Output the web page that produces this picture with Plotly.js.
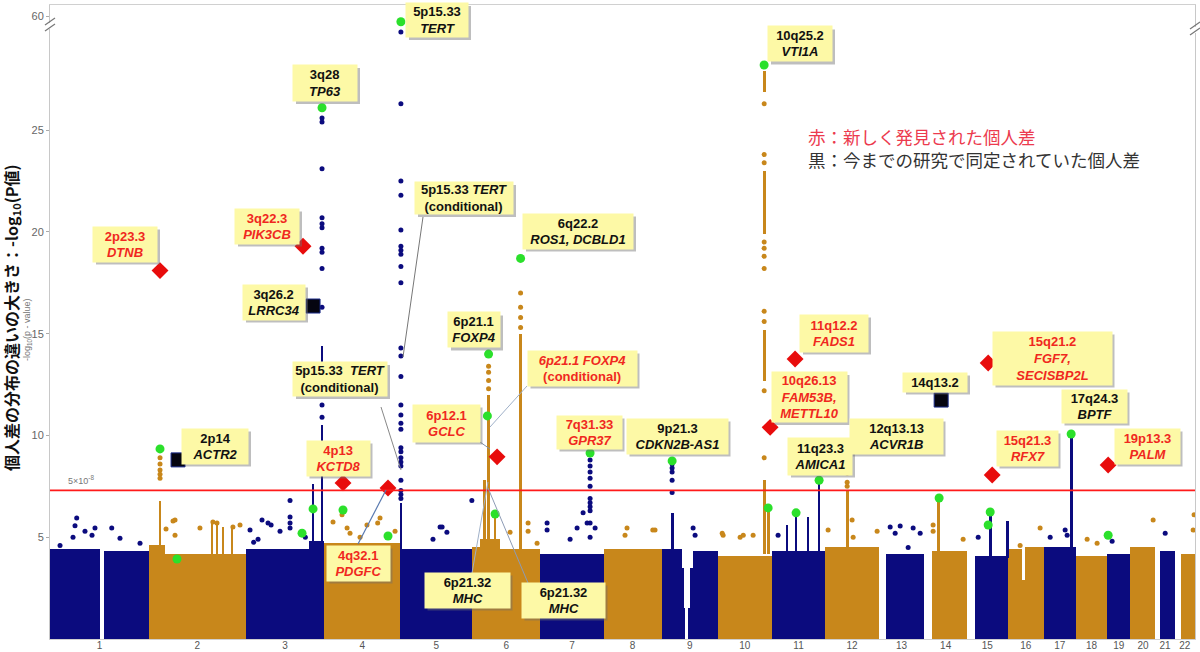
<!DOCTYPE html>
<html><head><meta charset="utf-8">
<script src="https://cdn.plot.ly/plotly-3.0.1.min.js"></script>
<style>html,body{margin:0;padding:0;background:#fff;}#chart{width:1200px;height:652px;}</style>
</head><body><div id="chart"></div>
<script>
// ---------------- DATA ----------------
const chrNames = ['1','2','3','4','5','6','7','8','9','10','11','12','13','14','15','16','17','18','19','20','21','22'];
const chrLen = [249.25,243.2,198.0,191.15,180.9,171.1,159.1,146.4,141.2,135.5,135.0,133.9,115.2,107.3,102.5,90.4,81.2,78.1,59.1,63.0,48.1,51.3];

// dense background band (chromosome, from Mb, to Mb, top -log10 p)
const bandChr  = [1,1, 2,2, 3,3, 4, 5, 6,6,6, 7, 8, 9,9,9,9,9,9, 10, 11, 12, 13, 14, 15, 16,16,16, 17, 18, 19, 20, 21, 22];
const bandFrom = [0,137, 0,40, 0,160, 0, 0, 0,20,70, 0, 0, 0,51,55,66,71,79, 0, 0, 0, 19, 19, 20, 0,36,44, 0, 0, 0, 0, 12, 15];
const bandTo   = [126,249.25, 40,243.2, 160,198, 191.15, 180.9, 20,70,171.1, 159.1, 146.4, 51,55,59,71,79,141.2, 135.5, 135.0, 133.9, 115.2, 107.3, 102.5, 36,44,90.4, 81.2, 78.1, 59.1, 63.0, 48.1, 51.3];
const bandTop  = [4.4,4.3, 4.6,4.2, 4.4,4.8, 4.7, 4.4, 4.5,4.9,4.4, 4.2, 4.4, 4.4,3.5,1.5,1.5,3.5,4.3, 4.1, 4.3, 4.5, 4.2, 4.3, 4.1, 4.4,2.9,4.5, 4.5, 4.1, 4.2, 4.5, 4.3, 4.2];

// dense vertical strands of SNPs near association peaks
const colChr = [2,2,2,2,2, 3,3,3, 5, 6,6,6,6, 9, 10,10,10,10,10, 11,11,11,11, 12, 14, 15,15, 17];
const colPos = [27.6,158.5,170.9,186,208.7, 192,192,169.4, 1.3, 41,30,57.4,121.5, 26.2, 116.5,116.5,116.5,116.5,126.6, 61.4,38.8,91.6,119.3, 54.9, 34.7, 58.4,101, 69.2];
const colLo  = [4.0,4.0,4.0,4.0,4.0, 4.0,12.2,4.3, 4.0, 4.4,4.4,4.4,4.4, 4.4, 4.2,12.7,19.9,26.9,4.2, 4.3,4.3,4.3,4.3, 4.4, 4.3, 4.0,4.0, 4.3];
const colHi  = [6.8,5.7,5.6,5.5,5.4, 10.5,14.4,7.6, 6.7, 12.0,7.8,6.0,15.0, 6.2, 7.8,15.2,23.0,27.9,6.4, 6.0,5.6,6.0,7.6, 7.3, 6.8, 6.1,5.8, 9.9];

// individual SNP points
const ptChr = [
 3,3,3,3,3,3,3,3,3,3,3,3,
 5,5,5,5,5,5,5,5,5,5,5,5,5,5,5,5,5,5,5,5,5,5,5,5,5,5,
 2,2,2,2,2,
 3,3,3,3,
 6,6,6,6,
 6,6,6,6,
 7,7,7,7,7,7,7,7,7,7,7,
 9,9,9,9,9,
 10,10,10,10,10,10,10,10,10,10,10,
 12,12,12,
 1,1,1,1,1,1,1,1,1,1,
 2,2,2,2,2,2,2,2,2,
 3,3,3,3,3,3,3,3,
 4,4,4,4,4,4,4,4,4,
 5,5,5,5,5,
 6,6,6,6,
 7,7,7,7,7,7,7,
 8,8,8,8,
 9,9,
 10,10,10,10,10,
 11,
 12,12,12,12,
 13,13,13,13,13,13,
 14,14,14,
 15,
 16,16,
 17,17,17,
 18,18,
 19,
 20,
 21,
 22,22];
const ptPos = [
 192,192,192,192,192,192,192,192,192,192,192,192,
 1.3,1.3,1.3,1.3,1.3,1.3,1.3,1.3,1.3,1.3,1.3,1.3,1.3,1.3,1.3,1.3,1.3,1.3,1.3,1.3,1.3,1.3,1.3,1.3,1.3,1.3,
 27.6,27.6,27.6,27.6,27.6,
 111.5,111.5,111.5,111.5,
 41,41,41,41,
 121.5,121.5,121.5,121.5,
 125.3,125.3,125.3,125.3,125.3,125.3,125.3,125.3,125.3,125.3,125.3,
 26.2,26.2,26.2,26.2,26.2,
 116.5,116.5,116.5,116.5,116.5,116.5,116.5,116.5,116.5,116.5,116.5,
 54.9,54.9,54.9,
 67.2,62.9,88,105.7,113.2,57.9,155.3,176.1,25.2,226.5,
 65.3,65.3,128,160.7,211,60.3,42.7,228.8,170.9,
 10.8,41,56.1,86.3,31,63.9,20,150,
 21.6,44.3,139.9,134,107,57,64.4,89.6,177.7,
 99.9,179.8,105,117,82,
 140.4,140.4,95,163,
 17.1,17.1,75,92.6,107.7,117.8,137.9,
 59.1,129.6,54.1,124,
 79,84,
 13.3,56.1,88.8,11,64,
 16.1,
 7,67.4,70,130.3,
 29.2,54.4,87,41.8,104.7,74.5,
 22.1,22.1,97.6,
 28.2,
 31.2,81.5,
 16.4,54.1,59.1,
 28.2,53.3,
 13,
 57.1,
 24.4,
 46.6,49];
const ptVal = [
 10.9,11.5,16.3,18.2,19.0,19.2,20.2,20.4,20.7,23.1,25.4,25.6,
 6.9,7.1,7.3,7.8,8.5,8.7,8.9,9.2,9.4,10.3,10.6,11.0,11.5,12.9,13.9,14.3,17.5,18.3,18.9,19.1,19.3,20.1,21.8,22.5,26.3,56.9,
 7.9,8.1,8.3,8.6,8.9,
 6.8,6.0,5.7,5.45,
 12.3,12.7,13.1,13.4,
 15.3,15.8,16.3,17.0,
 8.8,8.5,8.2,7.9,7.5,6.9,6.7,6.5,6.3,5.7,5.0,
 8.6,8.4,8.2,7.8,7.2,
 26.3,23.4,23.8,19.5,19.2,18.8,18.2,16.1,15.6,12.2,8.9,
 7.5,7.7,8.15,
 5.95,5.57,5.3,5.1,5.45,5.0,5.45,4.95,4.6,4.7,
 5.85,5.1,5.45,5.75,5.5,5.8,5.4,5.6,5.7,
 5.35,5.85,5.7,5.3,4.9,5.6,4.75,5.0,
 5.75,6.1,5.95,5.7,5.6,5.45,5.2,5.0,5.3,
 5.5,6.8,5.5,5.25,4.9,
 5.7,5.3,5.25,4.7,
 5.7,5.35,4.9,5.45,6.2,5.7,5.45,
 5.45,5.35,5.1,5.35,
 5.45,5.1,
 5.1,5.0,5.1,5.2,5.1,
 5.1,
 5.35,5.85,5.0,5.3,
 5.5,5.55,5.45,5.2,5.2,4.5,
 5.6,5.3,4.9,
 5.0,
 4.6,5.45,
 5.0,5.35,5.1,
 4.9,4.7,
 4.8,
 5.85,
 5.2,
 5.35,6.1];

// lead SNPs (green), new loci (red diamonds), known loci not in this scan (black squares)
const greenChr = [2,2,3,3,3,4,4,5,6,6,6,6,7,9,10,10,11,11,14,15,15,17,19];
const greenPos = [27.6,70.3,141.7,169.4,192,46.8,160,1.3,41,38,57.4,121.5,125.3,26.2,116.5,126.6,61.4,119.3,37.2,58.4,53.3,69.2,3.0];
const greenVal = [9.34,3.93,5.2,6.39,26.1,6.34,5.06,58.9,14.0,10.96,6.14,18.7,9.14,8.75,28.2,6.44,6.2,7.8,6.93,6.24,5.6,10.07,5.1];
const redChr = [2,3,4,4,6,10,11,15,15,19];
const redPos = [27.6,144.2,46.8,160,62.4,131.6,58.9,53.3,63.4,3.0];
const redVal = [18.1,19.3,7.67,7.42,8.95,10.4,13.76,13.56,8.06,8.55];
const sqChr = [2,3,14];
const sqPos = [72.9,169.4,42.3];
const sqVal = [8.8,16.36,11.74];

const sigP = 5e-8;
const yTickVals = [5,10,15,20,25,60];

// ---------------- HELPERS ----------------
const NAVY = '#0b0b7e', ORANGE = '#c8871b';
const cumStart = []; let acc = 0;
chrLen.forEach(l => { cumStart.push(acc); acc += l; });
const genomeLen = acc;
const gx = (c, p) => cumStart[c - 1] + p;
const colOf = c => (c % 2 ? NAVY : ORANGE);
// broken axis: values above 30 are compressed into the top band
const yb = v => (v > 30 ? 30.6 - (60 - v) * 0.25 : v);

// plot area in pixels (layout)
const PL = 50, PR = 1195, PT = 5, PB = 639;
const X = px => (px - PL) / (PR - PL);
const Y = py => (PB - py) / (PB - PT);

// ---------------- TRACES ----------------
const traces = [];
traces.push({
  type: 'bar',
  x: bandChr.map((c, i) => gx(c, (bandFrom[i] + bandTo[i]) / 2)),
  width: bandChr.map((c, i) => bandTo[i] - bandFrom[i]),
  y: bandTop, base: 0,
  marker: {color: bandChr.map(colOf), line: {width: 0}},
  hoverinfo: 'skip'
});
traces.push({
  type: 'bar',
  x: colChr.map((c, i) => gx(c, colPos[i])),
  width: colChr.map(() => 7),
  base: colLo, y: colHi.map((h, i) => h - colLo[i]),
  marker: {color: colChr.map(colOf), line: {width: 0}},
  hoverinfo: 'skip'
});
traces.push({
  type: 'scatter', mode: 'markers',
  x: ptChr.map((c, i) => gx(c, ptPos[i])),
  y: ptVal.map(yb),
  marker: {size: 5, color: ptChr.map(colOf)},
  hoverinfo: 'skip'
});
traces.push({
  type: 'scatter', mode: 'markers',
  x: greenChr.map((c, i) => gx(c, greenPos[i])),
  y: greenVal.map(yb),
  marker: {size: 9, color: '#2be02b'},
  hoverinfo: 'skip'
});
traces.push({
  type: 'scatter', mode: 'markers',
  x: redChr.map((c, i) => gx(c, redPos[i])),
  y: redVal,
  marker: {size: 13, symbol: 'diamond', color: '#e80c0c'},
  hoverinfo: 'skip'
});
traces.push({
  type: 'scatter', mode: 'markers',
  x: sqChr.map((c, i) => gx(c, sqPos[i])),
  y: sqVal,
  marker: {size: 14, symbol: 'square', color: '#050510', line: {color: '#1a2a8a', width: 1}},
  hoverinfo: 'skip'
});

// ---------------- ANNOTATIONS ----------------
const RED = '#f0281e', BLK = '#111111';
const boxes = [
  ['<b>5p15.33</b><br><b><i>TERT</i></b>', 437, 20, 62, 34, BLK],
  ['<b>3q28</b><br><b><i>TP63</i></b>', 325, 83, 64, 36, BLK],
  ['<b>10q25.2</b><br><b><i>VTI1A</i></b>', 800, 44, 64, 35, BLK],
  ['<b>2p23.3</b><br><b><i>DTNB</i></b>', 125, 244, 64, 35, RED],
  ['<b>3q22.3</b><br><b><i>PIK3CB</i></b>', 267, 226, 64, 35, RED],
  ['<b>3q26.2</b><br><b><i>LRRC34</i></b>', 274, 302, 62, 35, BLK],
  ['<b>5p15.33 <i>TERT</i></b><br><b>(conditional)</b>', 464, 198, 98, 32, BLK],
  ['<b>6q22.2</b><br><b><i>ROS1, DCBLD1</i></b>', 578, 231, 110, 35, BLK],
  ['<b>6p21.1</b><br><b><i>FOXP4</i></b>', 474, 330, 52, 35, BLK],
  ['<b>5p15.33  <i>TERT</i></b><br><b>(conditional)</b>', 340, 379, 94, 34, BLK],
  ['<b><i>6p21.1 FOXP4</i></b><br><b>(conditional)</b>', 582, 368, 109, 35, RED],
  ['<b>6p12.1</b><br><b><i>GCLC</i></b>', 446, 423, 67, 37, RED],
  ['<b>4p13</b><br><b><i>KCTD8</i></b>', 338, 458, 63, 35, RED],
  ['<b>2p14</b><br><b><i>ACTR2</i></b>', 215, 446, 66, 35, BLK],
  ['<b>4q32.1</b><br><b><i>PDGFC</i></b>', 358, 563, 63, 35, RED],
  ['<b>7q31.33</b><br><b><i>GPR37</i></b>', 589, 432, 65, 33, RED],
  ['<b>9p21.3</b><br><b><i>CDKN2B-AS1</i></b>', 677, 436, 101, 35, BLK],
  ['<b>6p21.32</b><br><b><i>MHC</i></b>', 467, 590, 85, 35, BLK],
  ['<b>6p21.32</b><br><b><i>MHC</i></b>', 563, 600, 83, 35, BLK],
  ['<b>10q26.13</b><br><b><i>FAM53B,</i></b><br><b><i>METTL10</i></b>', 809, 397, 75, 50, RED],
  ['<b>11q12.2</b><br><b><i>FADS1</i></b>', 834, 333, 68, 37, RED],
  ['<b>11q23.3</b><br><b><i>AMICA1</i></b>', 820, 456, 64, 37, BLK],
  ['<b>12q13.13</b><br><b><i>ACVR1B</i></b>', 896, 436, 93, 35, BLK],
  ['<b>14q13.2</b>', 935, 382, 64, 19, BLK],
  ['<b>15q21.2</b><br><b><i>FGF7,</i></b><br><b><i>SECISBP2L</i></b>', 1052, 358, 119, 53, RED],
  ['<b>17q24.3</b><br><b><i>BPTF</i></b>', 1094, 406, 65, 33, BLK],
  ['<b>15q21.3</b><br><b><i>RFX7</i></b>', 1027, 448, 61, 35, RED],
  ['<b>19p13.3</b><br><b><i>PALM</i></b>', 1147, 446, 65, 35, RED]
];
const LBLFONT = 'Liberation Sans, Arial, sans-serif';
const annotations = [];
const shadowShapes = [];
boxes.forEach(b => {
  // drop shadow as a shape (drawn under annotations)
  shadowShapes.push({type: 'rect', xref: 'paper', yref: 'paper', layer: 'above',
    x0: X(b[1] - b[3] / 2 + 3), x1: X(b[1] + b[3] / 2 + 3),
    y0: Y(b[2] + b[4] / 2 + 3), y1: Y(b[2] - b[4] / 2 + 3),
    fillcolor: 'rgba(110,110,110,0.45)', line: {width: 0}});
  annotations.push({xref: 'paper', yref: 'paper', x: X(b[1]), y: Y(b[2]), xanchor: 'center', yanchor: 'middle',
    text: b[0], showarrow: false, width: b[3], height: b[4], align: 'center', valign: 'middle', borderpad: 0,
    bgcolor: '#fdf9a6', font: {family: LBLFONT, size: 13, color: b[5]}});
});
// axis titles and texts
annotations.push({xref: 'paper', yref: 'paper', x: X(11), y: Y(318), xanchor: 'center', yanchor: 'middle', showarrow: false,
  textangle: -90, text: '<b>個人差の分布の違いの大きさ：-log<sub>10</sub>(P値)</b>',
  font: {family: 'Noto Sans CJK JP, sans-serif', size: 16, color: '#111'}});
annotations.push({xref: 'paper', yref: 'paper', x: X(28), y: Y(330), xanchor: 'center', yanchor: 'middle', showarrow: false,
  textangle: -90, text: '-log<sub>10</sub>(p - value)',
  font: {family: 'Liberation Sans, Arial, sans-serif', size: 9, color: '#777'}});
annotations.push({xref: 'paper', yref: 'y', x: X(66), y: -Math.log10(sigP), xanchor: 'left', yanchor: 'bottom', yshift: 2, showarrow: false,
  text: '5×10<sup>-8</sup>', font: {family: 'Liberation Sans, Arial, sans-serif', size: 9, color: '#777'}});
annotations.push({xref: 'paper', yref: 'paper', x: X(806), y: Y(148), xanchor: 'left', yanchor: 'middle', showarrow: false, align: 'left',
  text: '<span style="color:#ec3a4e">赤：新しく発見された個人差</span><br><span style="color:#333">黒：今までの研究で同定されていた個人差</span>',
  font: {family: 'Noto Sans CJK JP, sans-serif', size: 17.5, color: '#333'}});

// ---------------- SHAPES ----------------
const L = (x0, y0, x1, y1, color, w) => ({type: 'line', xref: 'paper', yref: 'paper',
  x0: X(x0), y0: Y(y0), x1: X(x1), y1: Y(y1), line: {color: color, width: w || 1}});
const shapes = [
  {type: 'line', xref: 'paper', yref: 'y', x0: 0, x1: 1, y0: -Math.log10(sigP), y1: -Math.log10(sigP),
    line: {color: '#ff1a1a', width: 1.6}},
  L(423, 217, 403, 357, '#777', 1),
  L(381, 407, 401, 470, '#888', 1),
  L(527, 386, 490, 427, '#9fb0c8', 1),
  L(480, 442, 490, 449, '#8090a8', 1),
  L(472, 573, 488, 482, '#9fb0c8', 1),
  L(528, 583, 488, 488, '#8d9bb5', 1),
  L(358, 544, 386, 490, '#5a7ab0', 1.2),
  // axis break marks
  {type: 'rect', xref: 'paper', yref: 'paper', x0: X(47), x1: X(53), y0: Y(29), y1: Y(23), fillcolor: '#fff', line: {width: 0}},
  L(45, 25, 55, 18, '#777', 1.2),
  L(45, 31, 55, 24, '#777', 1.2),
  {type: 'rect', xref: 'paper', yref: 'paper', x0: X(1192), x1: X(1198), y0: Y(33), y1: Y(27), fillcolor: '#fff', line: {width: 0}},
  L(1190, 29, 1200, 22, '#777', 1.2),
  L(1190, 35, 1200, 28, '#777', 1.2)
].concat(shadowShapes);

// ---------------- LAYOUT ----------------
const layout = {
  width: 1200, height: 652,
  margin: {l: PL, r: 1200 - PR, t: PT, b: 652 - PB},
  paper_bgcolor: '#fff', plot_bgcolor: '#fff',
  showlegend: false, barmode: 'overlay', bargap: 0,
  xaxis: {range: [0, genomeLen], showgrid: false, zeroline: false,
    tickvals: chrLen.map((l, i) => cumStart[i] + l / 2), ticktext: chrNames,
    tickfont: {family: 'Liberation Sans, Arial, sans-serif', size: 10, color: '#555'},
    ticks: '', ticklabelstandoff: -3, showline: true, mirror: true, linecolor: '#d0d0d0', linewidth: 1},
  yaxis: {range: [0, 31.15], showgrid: false, zeroline: false,
    tickvals: yTickVals.map(yb), ticktext: yTickVals.map(String),
    tickfont: {family: 'Liberation Sans, Arial, sans-serif', size: 11, color: '#666'},
    ticks: 'outside', ticklen: 3, tickcolor: '#aaa',
    showline: true, mirror: true, linecolor: '#c8c8c8', linewidth: 1},
  annotations: annotations,
  shapes: shapes
};

Plotly.newPlot('chart', traces, layout, {displayModeBar: false, staticPlot: true});
</script>
</body></html>
